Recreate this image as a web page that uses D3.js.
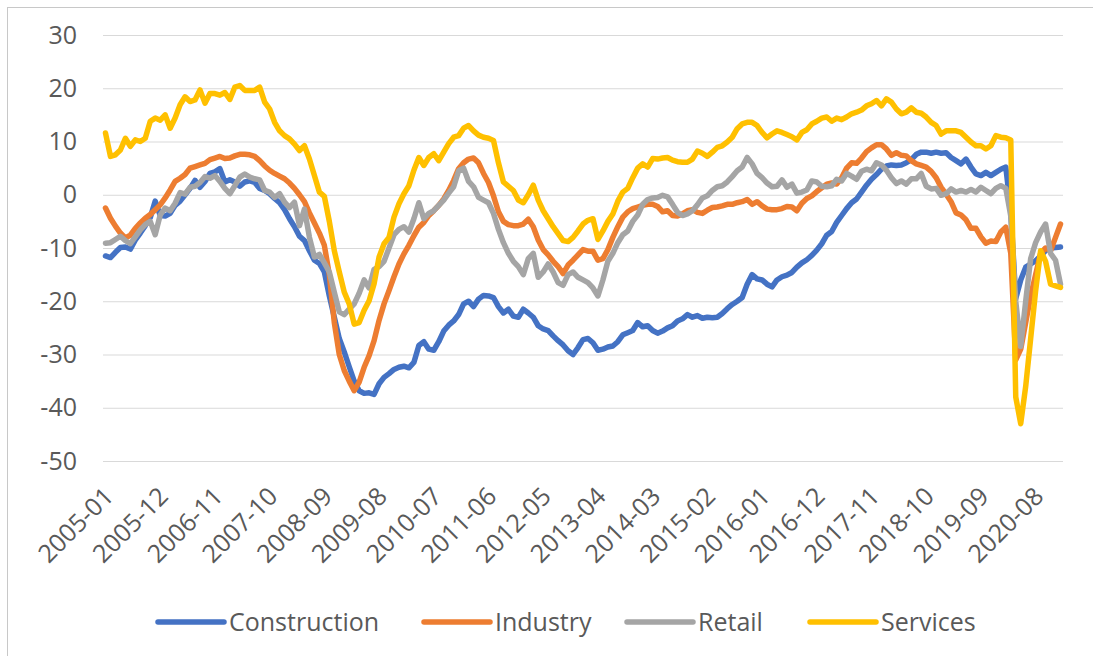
<!DOCTYPE html>
<html>
<head>
<meta charset="utf-8">
<script src="https://cdn.jsdelivr.net/npm/d3@7"></script>
<style>
  html, body { margin: 0; padding: 0; background: #fff; }
  text { font-family: "Open Sans", sans-serif; fill: #595959; }
</style>
</head>
<body>
<div id="chart"></div>
<script>
// monthly confidence indicators, 2005-01 .. 2021-01
const startMonth = new Date(2005, 0, 1);
const endMonth = new Date(2021, 0, 1);

const construction = [
  -11.5, -11.8, -10.8, -9.9, -9.8, -10.2, -8.5, -7.2, -5.8, -4.3, -1.2, -3.9,
  -4, -3.5, -2, -1.2, 0, 1.2, 2.7, 1.4, 2.5, 4, 4.3, 4.9,
  2.4, 2.8, 2.4, 1.6, 2.4, 2.6, 2.3, 1.2, 0.8, 0.2, -0.7, -1.5,
  -2.8, -4.5, -6, -7.8, -8.6, -10.5, -12.3, -12.9, -14.5, -19, -23, -27,
  -29.5, -32.3, -35, -36.8, -37.3, -37.2, -37.5, -35.5, -34.3, -33.6, -32.8, -32.4,
  -32.2, -32.5, -31.5, -28.3, -27.6, -29, -29.2, -27.6, -25.6, -24.5, -23.7, -22.5,
  -20.5, -20, -21, -19.6, -18.9, -19, -19.3, -21, -22.2, -21.5, -22.8, -23,
  -21.5, -22.2, -23, -24.6, -25.2, -25.5, -26.5, -27.4, -28.2, -29.3, -30, -28.7,
  -27.2, -27, -27.8, -29.2, -29, -28.6, -28.4, -27.6, -26.3, -25.9, -25.5, -24,
  -24.8, -24.6, -25.5, -26, -25.6, -25, -24.6, -23.7, -23.3, -22.5, -23, -22.7,
  -23.2, -23, -23.1, -23, -22.3, -21.4, -20.6, -20, -19.3, -16.8, -15, -15.8,
  -16, -16.8, -17.3, -16, -15.4, -15.1, -14.6, -13.6, -12.8, -12.2, -11.4, -10.4,
  -9.2, -7.6, -6.9, -5.2, -3.9, -2.6, -1.5, -0.8, 0.5, 1.8, 2.9, 3.8,
  4.8, 5.4, 5.6, 5.5, 5.6, 6, 6.6, 7.6, 8, 8, 7.8, 8,
  7.8, 7.9, 7, 6.4, 5.8, 6.7, 5.2, 3.9, 3.6, 4.2, 3.6, 4.2,
  4.8, 5.2, -3, -19.5, -16, -13.6, -13, -12.4, -11.5, -10.5, -10, -9.9,
  -9.8
];

const industry = [
  -2.5, -4.4, -5.9, -7.2, -8.1, -7.6, -6.3, -5.3, -4.4, -3.7, -2.8, -1.9,
  -0.6, 0.9, 2.5, 3.1, 3.8, 5, 5.3, 5.6, 5.9, 6.6, 6.9, 7.2,
  6.8, 6.9, 7.3, 7.6, 7.6, 7.5, 7.2, 6.4, 5.4, 4.6, 4, 3.5,
  3, 2.2, 1.2, 0, -1.3, -3.4, -5.3, -7.2, -9.5, -15, -24, -30,
  -33, -35, -36.8, -35.2, -32.4, -30.2, -27.4, -23.6, -20.5, -18, -15.4, -13,
  -11.1, -9.5, -7.7, -6.1, -5.2, -3.9, -3, -2, -0.8, 0.8, 2.7, 4.9,
  6, 6.7, 6.9, 6, 4, 2.3, -0.2, -3.2, -5, -5.6, -5.8, -5.8,
  -5.5, -4.6, -6, -8.5, -10.3, -11.3, -12.5, -13.5, -14.8, -13.2, -12.3, -11.3,
  -10.3, -10.6, -10.6, -12.3, -12, -10.3, -8, -6, -4.2, -3.2, -2.6, -2.3,
  -2, -1.8, -1.8, -2.2, -3.2, -3, -3.9, -4, -3.6, -3, -2.8, -3.3,
  -3.5, -2.9, -2.4, -2.3, -2.1, -1.8, -1.8, -1.5, -1.3, -0.9, -1.8, -1.3,
  -2.1, -2.7, -2.8, -2.8, -2.6, -2.2, -2.3, -3, -1.6, -0.7, -0.2, 0.6,
  1.3, 2, 2.2, 2, 3.2, 5, 6, 5.9, 6.9, 8.1, 8.8, 9.4,
  9.4, 8.6, 7.4, 7.9, 7.4, 7.3, 6.4, 5.8, 5.5, 5.2, 4.4, 3.2,
  1.4, 0.1, -1.3, -3.4, -3.8, -4.7, -6.3, -6.3, -7.9, -9.1, -8.7, -8.8,
  -7, -6.1, -11, -31, -29, -24, -19, -15, -11, -10, -10.5, -8,
  -5.5
];

const retail = [
  -9.1, -9, -8.4, -7.8, -8.6, -9.2, -7.9, -6.6, -5.6, -5, -7.5, -3.8,
  -2.5, -3, -1.6, 0.4, 0.1, 1.4, 1.6, 2.3, 3.4, 3.1, 3.6, 2.5,
  1.2, 0.2, 1.7, 3.3, 3.9, 3.3, 3, 2.8, 0.8, 0.5, -0.5, 0.2,
  -1.4, -2.4, -1.4, -5.8, -2.7, -8, -11.7, -11.2, -12.8, -14.5, -18.3, -22,
  -22.5, -21.5, -20.5, -18.5, -16, -17.5, -14, -13.5, -12.5, -10, -7.5, -6.5,
  -6, -7, -4.5, -1.5, -4.5, -3.5, -3, -2, -1, 0.3, 1.5, 4.5,
  5, 2.5, 1.5, -0.5, -1, -1.5, -3.5, -6.5, -9, -11, -12.5, -13.5,
  -15, -12, -11, -15.5, -14.5, -13, -14.5, -16.5, -17, -15, -14.5, -15.5,
  -16, -16.5, -17.5, -19, -16, -12.5, -11, -9, -7.5, -6.8, -5, -3.8,
  -1.8, -0.9, -0.6, -0.5, -0.1, -0.4, -1.8, -3.3, -3.9, -3.6, -3, -1.9,
  -0.6, -0.2, 0.8, 1.5, 1.7, 2.4, 3.4, 4.5, 5.2, 7, 5.8, 4,
  3.2, 2.2, 1.5, 1.6, 2.8, 1.4, 2, 0.3, 0.5, 0.9, 2.6, 2.4,
  1.6, 1.5, 1.7, 2.9, 2.6, 4, 3.5, 2.9, 4.4, 4.8, 4.5, 6,
  5.6, 4.6, 3.2, 2.1, 2.6, 2, 3, 3, 4, 1.6, 1.1, 1.2,
  -0.1, 0.2, 1.1, 0.5, 0.8, 0.5, 1, 0.5, 1.4, 0.8, 0.2, 1.2,
  1.7, 1.2, -4, -20, -28.5, -20, -12, -9, -7, -5.5, -11, -12.3,
  -16.8
];

const services = [
  11.6, 7.2, 7.5, 8.4, 10.6, 9.1, 10.3, 10, 10.6, 13.8, 14.4, 14,
  15, 12.5, 14.4, 16.9, 18.4, 17.5, 17.8, 19.7, 17.2, 19, 19, 18.7,
  19.2, 17.9, 20.2, 20.5, 19.6, 19.6, 19.6, 20.2, 17.4, 16.1, 13.6, 12,
  11.1, 10.5, 9.5, 8.3, 9.2, 6.7, 3.6, 0.5, -0.3, -5, -10.5, -14.5,
  -18.3, -20.5, -24.3, -24, -21.7, -19.9, -16.7, -11.7, -9.2, -8, -4.2, -1.7,
  0.2, 1.7, 4.6, 7, 5.5, 7, 7.7, 6.4, 8, 9.6, 10.8, 11.1,
  12.5, 13, 12, 11.2, 10.8, 10.6, 10.2, 6, 2.4, 1.6, 0.8, -1,
  -1.5, 0, 1.8, -1, -3, -4.5, -6, -7.3, -8.6, -8.8, -8, -6.8,
  -5.5, -4.8, -4.5, -8.4, -6.8, -5, -3.6, -1.2, 0.5, 1.2, 3.2, 5,
  5.8, 5.2, 6.8, 6.7, 6.9, 7, 6.5, 6.2, 6.1, 6.1, 6.7, 8.2,
  7.8, 7.2, 8, 8.9, 9.2, 9.9, 10.8, 12.4, 13.3, 13.6, 13.6, 13,
  11.7, 10.7, 11.4, 12, 11.7, 11.3, 10.9, 10.3, 11.7, 12.2, 13.3, 13.8,
  14.4, 14.6, 13.8, 14.4, 14.1, 14.6, 15.2, 15.5, 15.9, 16.7, 17.1, 17.7,
  16.7, 18, 17.4, 16.1, 15.2, 15.5, 16.3, 15.5, 15.3, 14.6, 13.6, 13,
  11.4, 12, 12, 12, 11.7, 10.8, 9.9, 9.2, 9.2, 8.6, 9.2, 11.1,
  10.8, 10.7, 10.3, -38, -43, -36, -27, -18, -10.5, -12.5, -16.8, -17.1,
  -17.4
];

const tickLabels = ["2005-01", "2005-12", "2006-11", "2007-10", "2008-09", "2009-08",
  "2010-07", "2011-06", "2012-05", "2013-04", "2014-03", "2015-02", "2016-01",
  "2016-12", "2017-11", "2018-10", "2019-09", "2020-08"];
const yTicks = [-50, -40, -30, -20, -10, 0, 10, 20, 30];

const seriesNames = ["Construction", "Industry", "Retail", "Services"];
const seriesColors = ["#4472C4", "#ED7D31", "#A5A5A5", "#FFC000"];

const fmt = d3.timeFormat("%Y-%m");
const months = d3.timeMonth.range(startMonth, d3.timeMonth.offset(endMonth, 1)).map(fmt);
const allSeries = [construction, industry, retail, services];

const width = 1093, height = 656;
const svg = d3.select("#chart").append("svg")
    .attr("width", width)
    .attr("height", height);

// chart border (right and bottom edges fall outside the picture)
svg.append("rect")
    .attr("x", 7.5).attr("y", 7.5)
    .attr("width", 1200).attr("height", 800)
    .attr("fill", "none")
    .attr("stroke", "#c8c8c8");

const x = d3.scalePoint(months, [103, 1063]).padding(0.5);
const y = d3.scaleLinear([-50, 30], [461, 35]);

svg.append("g")
    .attr("transform", "translate(103,0)")
    .call(d3.axisLeft(y).tickValues(yTicks).tickSize(-960).tickPadding(26)
        .tickFormat(d => String(d))) // plain hyphen like Excel
    .call(g => g.select(".domain").remove())
    .call(g => g.selectAll(".tick line").attr("stroke", "#d9d9d9").attr("stroke-width", 1.2))
    .call(g => g.selectAll(".tick text")
        .attr("fill", "#595959")
        .style("font-size", "25px"));

svg.append("g")
    .attr("transform", "translate(0,461)")
    .call(d3.axisBottom(x).tickValues(tickLabels).tickSize(0))
    .call(g => g.select(".domain").remove())
    .call(g => g.selectAll(".tick text")
        .attr("fill", "#595959")
        .style("font-size", "25px")
        .attr("text-anchor", "end")
        .attr("dy", null)
        .attr("y", 0)
        .attr("transform", "translate(9,37) rotate(-45)"));

const line = d3.line()
    .x((d, i) => x(months[i]))
    .y(d => y(d));

svg.append("g")
    .selectAll("path")
    .data(allSeries)
    .join("path")
    .attr("d", line)
    .attr("fill", "none")
    .attr("stroke", (d, i) => seriesColors[i])
    .attr("stroke-width", 5.5)
    .attr("stroke-linejoin", "round")
    .attr("stroke-linecap", "round");

// legend
const legendX = [158, 424, 627, 810];
const legend = svg.append("g")
    .selectAll("g")
    .data(seriesNames)
    .join("g")
    .attr("transform", (d, i) => `translate(${legendX[i]},622)`);
legend.append("line")
    .attr("x1", 0).attr("x2", 66)
    .attr("stroke", (d, i) => seriesColors[i])
    .attr("stroke-width", 5.5)
    .attr("stroke-linecap", "round");
legend.append("text")
    .attr("x", 71)
    .attr("dy", "0.35em")
    .style("font-size", "25px")
    .text(d => d);
</script>
</body>
</html>
